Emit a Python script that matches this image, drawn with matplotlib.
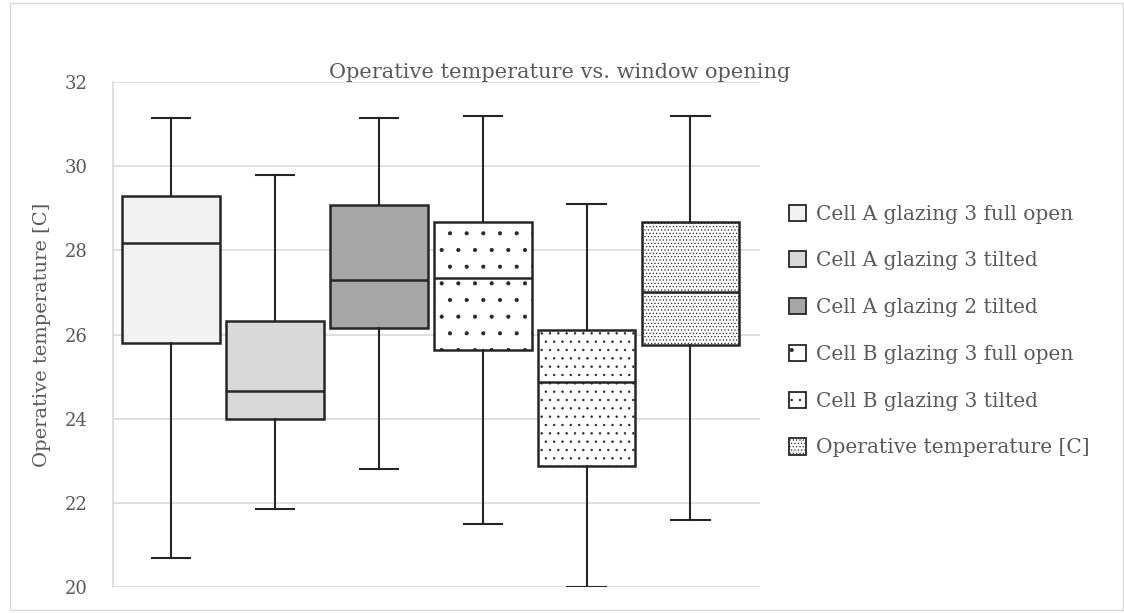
import matplotlib
matplotlib.use("Agg")
import matplotlib.pyplot as plt
from matplotlib.patches import Patch

labels = ["Cell A glazing 3 full open", "Cell A glazing 3 tilted", "Cell A glazing 2 tilted",
          "Cell B glazing 3 full open", "Cell B glazing 3 tilted", "Operative temperature [C]"]
whislo = [20.7, 21.85, 22.8, 21.5, 20.0, 21.6]
q1 = [25.8, 24.0, 26.15, 25.62, 22.87, 25.75]
med = [28.17, 24.65, 27.3, 27.35, 24.87, 27.0]
q3 = [29.3, 26.33, 29.07, 28.67, 26.1, 28.67]
whishi = [31.15, 29.78, 31.15, 31.2, 29.1, 31.2]
facecolors = ["#f2f2f2", "#d9d9d9", "#a6a6a6", "white", "white", "white"]
hatches = [None, None, None, ".", "..", "....."]

plt.rcParams['font.family'] = ['DejaVu Serif']
plt.rcParams['hatch.linewidth'] = 0.5
plt.rcParams['hatch.color'] = "#262626"

fig = plt.figure(figsize=(11.24, 6.13), dpi=100)
ax = fig.add_axes([113/1124, 1-587/613, (760-113)/1124, (587-82)/613])

stats = []
for i in range(len(labels)):
    stats.append(dict(whislo=whislo[i], q1=q1[i], med=med[i], q3=q3[i], whishi=whishi[i], fliers=[], label=labels[i]))

pos = list(range(len(labels)))
bp = ax.bxp(stats, positions=pos, widths=0.94, patch_artist=True, showfliers=False,
            capwidths=0.37,
            boxprops=dict(linewidth=1.8, edgecolor="#262626"),
            medianprops=dict(color="#262626", linewidth=1.8),
            whiskerprops=dict(color="#262626", linewidth=1.5),
            capprops=dict(color="#262626", linewidth=1.5))
for b, fc, h in zip(bp['boxes'], facecolors, hatches):
    b.set_facecolor(fc)
    if h:
        b.set_hatch(h)

ax.set_xlim(-0.56, 5.67)
ax.set_ylim(20, 32)
ax.set_yticks(range(20, 33, 2))
ax.set_xticks([])
ax.grid(axis='y', color="#d9d9d9", linewidth=1.2)
ax.set_axisbelow(True)
for s in ['top', 'right', 'bottom']:
    ax.spines[s].set_visible(False)
ax.spines['left'].set_color("#d9d9d9")
ax.spines['left'].set_linewidth(1.2)
ax.tick_params(axis='y', length=0, labelsize=13, labelcolor="#595959", pad=18)
ax.set_ylabel("Operative temperature [C]", fontsize=14, color="#595959", labelpad=10)

fig.text(560/1124, 1-72/613, "Operative temperature vs. window opening", ha='center', va='center',
         fontsize=15, color="#595959")

handles = [Patch(facecolor=fc, edgecolor="#262626", hatch=h, linewidth=1.3) for fc, h in zip(facecolors, hatches)]
fig.legend(handles, labels, loc='center left', bbox_to_anchor=(789/1124, 1-331/613), frameon=False,
           fontsize=14.5, labelcolor="#595959", handlelength=0.85, handleheight=0.85,
           labelspacing=1.38, handletextpad=0.5, borderpad=0, borderaxespad=0)

border = plt.Rectangle((0.009, 0.005), 0.99, 0.99, transform=fig.transFigure, fill=False,
                       edgecolor="#d9d9d9", linewidth=1.0)
fig.patches.append(border)

fig.savefig("out.png", dpi=100)
